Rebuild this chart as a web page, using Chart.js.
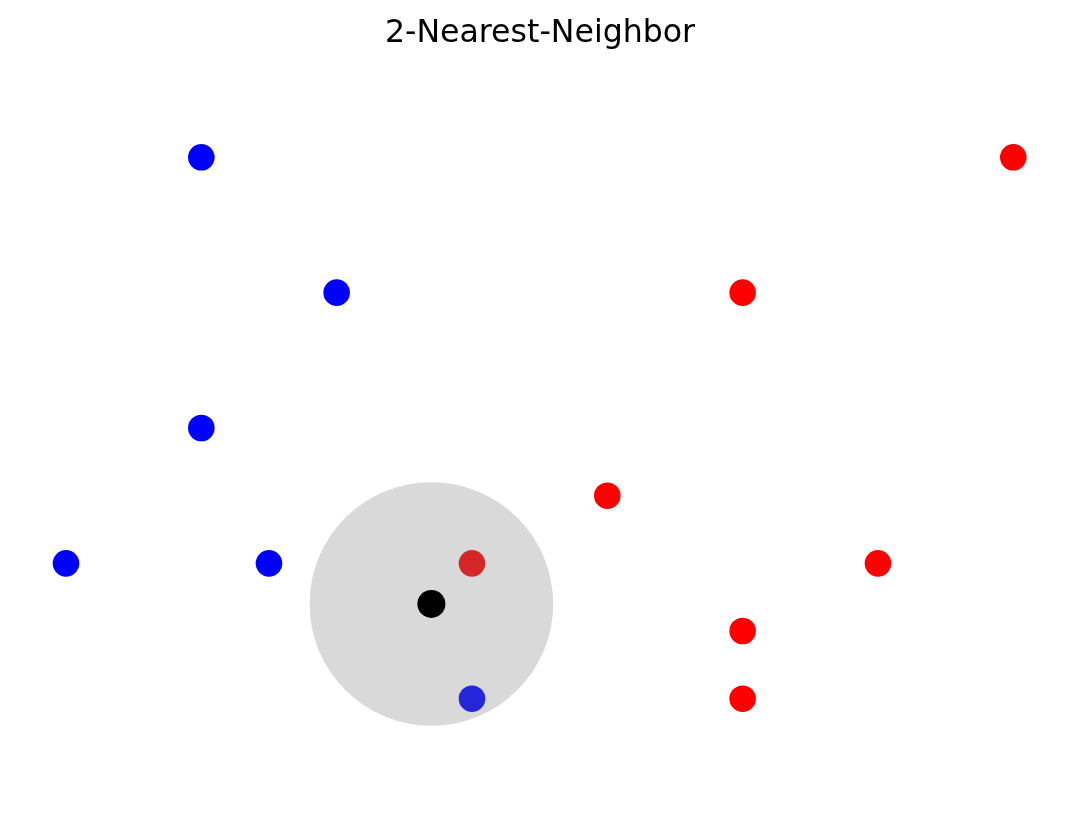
<!DOCTYPE html>
<html>
<head>
<meta charset="utf-8">
<script src="https://cdn.jsdelivr.net/npm/chart.js@4/dist/chart.umd.min.js"></script>
<style>
html,body{margin:0;padding:0;background:#fff;}
#wrap{width:1080px;height:817px;}
</style>
</head>
<body>
<div id="wrap"><canvas id="c" width="1080" height="817"></canvas></div>
<script>
const titleText = "2-Nearest-Neighbor";
const blueX = [2, 3, 2, 1, 2.5];
const blueY = [5, 4, 3, 2, 2];
const redX = [8, 6, 5, 7, 6, 6];
const redY = [5, 4, 2.5, 2, 1.5, 1];
const nearRedX = [4];
const nearRedY = [2];
const nearBlueX = [4];
const nearBlueY = [1];
const queryX = [3.7];
const queryY = [1.7];
const neighborRadius = [0.9];

const pts = (xs, ys) => xs.map((x, i) => ({x: x, y: ys[i]}));

const circleRadiusPx = (ctx) => {
  const s = ctx.chart.scales.x;
  if (!s) return 0;
  return Math.abs(s.getPixelForValue(queryX[0] + neighborRadius[0]) - s.getPixelForValue(queryX[0]));
};

new Chart(document.getElementById('c'), {
  type: 'scatter',
  data: {
    datasets: [
      {label: 'region', data: pts(queryX, queryY), backgroundColor: '#d9d9d9', borderWidth: 0, pointRadius: circleRadiusPx, order: 10},
      {label: 'blue', data: pts(blueX, blueY), backgroundColor: '#0000ff', borderWidth: 0, pointRadius: 13.3, order: 1},
      {label: 'red', data: pts(redX, redY), backgroundColor: '#ff0000', borderWidth: 0, pointRadius: 13.3, order: 1},
      {label: 'nearRed', data: pts(nearRedX, nearRedY), backgroundColor: '#d62728', borderWidth: 0, pointRadius: 13.3, order: 1},
      {label: 'nearBlue', data: pts(nearBlueX, nearBlueY), backgroundColor: '#2626da', borderWidth: 0, pointRadius: 13.3, order: 1},
      {label: 'query', data: pts(queryX, queryY), backgroundColor: '#000000', borderWidth: 0, pointRadius: 14, order: 0}
    ]
  },
  options: {
    responsive: false,
    animation: false,
    events: [],
    layout: {padding: 0, autoPadding: false},
    plugins: {
      legend: {display: false},
      tooltip: {enabled: false},
      title: {
        display: true,
        text: titleText,
        color: '#000',
        font: {family: 'DejaVu Sans', size: 31.6, weight: 'normal', lineHeight: '36px'},
        padding: {top: 16, bottom: 8}
      }
    },
    scales: {
      x: {type: 'linear', display: false, min: 0.5123, max: 8.493},
      y: {type: 'linear', display: false, min: 0.126, max: 5.7189}
    }
  }
});
</script>
</body>
</html>
